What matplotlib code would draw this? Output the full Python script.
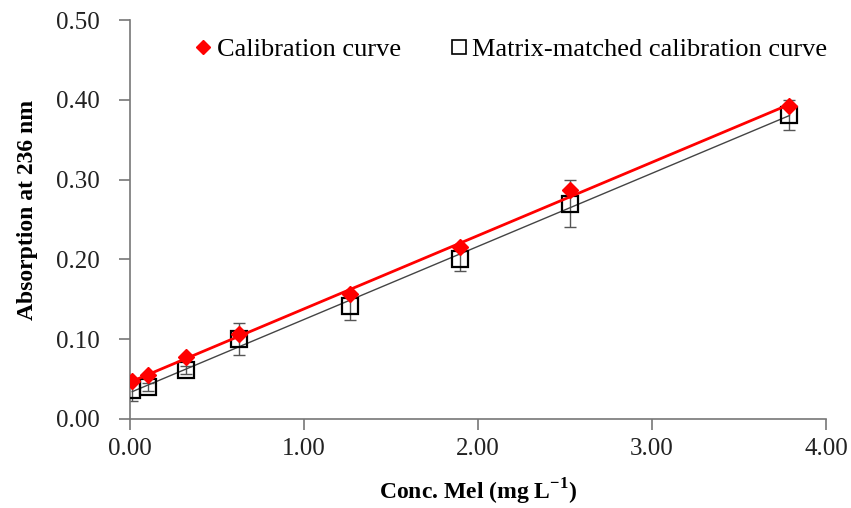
import matplotlib
matplotlib.use("Agg")
import matplotlib.pyplot as plt
import numpy as np
from matplotlib.ticker import FormatStrFormatter

plt.rcParams['font.family'] = ['Liberation Serif', 'DejaVu Serif']
plt.rcParams['mathtext.fontset'] = 'custom'
plt.rcParams['mathtext.rm'] = 'Liberation Serif'
plt.rcParams['mathtext.bf'] = 'Liberation Serif:bold'

# Melamine concentrations (mg/L)
conc = [0.013, 0.105, 0.32, 0.627, 1.264, 1.897, 2.53, 3.79]
# Absorbance, solvent calibration
abs_cal = [0.047, 0.055, 0.078, 0.106, 0.157, 0.216, 0.287, 0.392]
# Absorbance, matrix-matched calibration
abs_mm = [0.036, 0.040, 0.062, 0.100, 0.141, 0.201, 0.270, 0.381]
err_mm = [0.014, 0.005, 0.005, 0.020, 0.017, 0.015, 0.029, 0.019]

x_ticks = [0.0, 1.0, 2.0, 3.0, 4.0]
y_ticks = [0.0, 0.1, 0.2, 0.3, 0.4, 0.5]

fig = plt.figure(figsize=(8.51, 5.08), dpi=100)
ax = fig.add_axes([0.1528, 0.1752, 0.8178, 0.7854])

# linear trend lines through each series
xs = np.array([conc[0], conc[-1]])
k_mm, b_mm = np.polyfit(conc, abs_mm, 1)
k_cal, b_cal = np.polyfit(conc, abs_cal, 1)

ax.errorbar(conc, abs_mm, yerr=err_mm, fmt='none', ecolor='#555555',
            elinewidth=1.0, capsize=4, capthick=1.0, zorder=2)
ax.plot(xs, k_mm * xs + b_mm, color='#444444', lw=1.0, zorder=3)
ax.plot(conc, abs_mm, ls='none', marker='s', ms=11, mfc='none',
        mec='black', mew=1.6, zorder=3,
        label='Matrix-matched calibration curve')
ax.plot(xs, k_cal * xs + b_cal, color='#ff0000', lw=2.0, zorder=4)
ax.plot(conc, abs_cal, ls='none', marker='D', ms=8, mfc='#ff0000',
        mec='#ff0000', zorder=5, label='Calibration curve')

ax.set_xlim(0, 4.0)
ax.set_ylim(0, 0.5)
ax.set_xticks(x_ticks)
ax.set_yticks(y_ticks)
ax.xaxis.set_major_formatter(FormatStrFormatter('%.2f'))
ax.yaxis.set_major_formatter(FormatStrFormatter('%.2f'))
ax.spines['top'].set_visible(False)
ax.spines['right'].set_visible(False)
for s in ('left', 'bottom'):
    ax.spines[s].set_color('#777777')
    ax.spines[s].set_linewidth(1.2)
ax.tick_params(direction='out', length=8, width=1.2, color='#777777',
               labelsize=18, labelcolor='#222222')
ax.tick_params(axis='x', pad=6)
ax.tick_params(axis='y', pad=14)

ax.set_xlabel('Conc. Mel (mg L$^{\\mathbf{-1}}$)', fontsize=17,
              fontweight='bold', labelpad=12)
ax.set_ylabel('Absorption at 236 nm', fontsize=17, fontweight='bold')
ax.yaxis.set_label_coords(-0.132, 0.525)

h, l = ax.get_legend_handles_labels()
leg = ax.legend([h[1], h[0]], [l[1], l[0]], loc='upper left', ncol=2,
                frameon=False, fontsize=19, handlelength=0.6,
                handletextpad=0.2, columnspacing=1.9,
                bbox_to_anchor=(0.06, 1.015))
leg.legend_handles[0].set_markersize(7)
leg.legend_handles[1].set_markersize(10)
leg.legend_handles[1].set_markeredgewidth(1.2)

fig.savefig('out.png', dpi=100)
